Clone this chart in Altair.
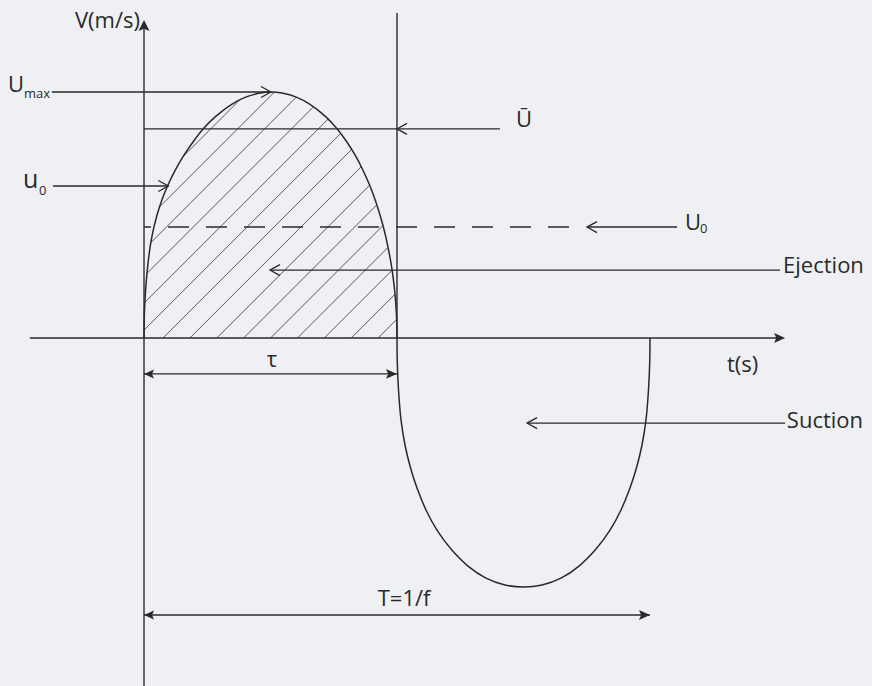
import altair as alt
import pandas as pd

# ---- canvas and coordinate frame -------------------------------------------
W, H = 872, 686
XDOM = [-0.5692, 2.8775]   # time, in units of the ejection time tau
YDOM = [-1.4146, 1.3740]   # velocity, in units of U_max
BG = "#eff0f3"
INK = "#2a2a2a"
FONT = "Open Sans"
CURVE = "catmull-rom"

# ---- characteristic quantities ---------------------------------------------
TAU = 1.0          # ejection time
PERIOD = 2.0       # T = 1/f
U_MAX = 1.0        # peak velocity
PEAK_T = 0.502     # time of the peak
U_BAR = 0.85       # mean ejection velocity
U_0 = 0.451        # reference velocity U0
U0_T, U0_V = 0.096, 0.618   # point u0 on the rising edge

# ---- velocity trace over one cycle -------------------------------------------
ej_t = [0.0000, 0.0016, 0.0067, 0.0154, 0.0289, 0.0514, 0.0704, 0.0929, 0.1225,
        0.1561, 0.1957, 0.2336, 0.2822, 0.3466, 0.4040, 0.4549, 0.5020, 0.5498,
        0.5996, 0.6561, 0.7182, 0.7636, 0.8000, 0.8364, 0.8664, 0.8933, 0.9142,
        0.9328, 0.9462, 0.9581, 0.9771, 0.9901, 0.9976, 1.0000]
ej_v = [0.000, 0.100, 0.200, 0.300, 0.400, 0.500, 0.560, 0.618, 0.680,
        0.740, 0.800, 0.850, 0.900, 0.950, 0.980, 0.995, 1.000, 0.995,
        0.980, 0.950, 0.900, 0.850, 0.800, 0.740, 0.680, 0.618, 0.560,
        0.500, 0.451, 0.400, 0.300, 0.200, 0.100, 0.000]
su_t = [1.0000, 1.0012, 1.0055, 1.0158, 1.0316, 1.0514, 1.0791, 1.1146, 1.1581,
        1.2134, 1.2806, 1.3518, 1.4269, 1.5000, 1.5731, 1.6482, 1.7194, 1.7866,
        1.8419, 1.8854, 1.9209, 1.9486, 1.9684, 1.9842, 1.9945, 1.9988, 2.0000]
su_v = [0.000, -0.102, -0.203, -0.333, -0.435, -0.520, -0.610, -0.699, -0.781,
        -0.858, -0.927, -0.976, -1.004, -1.012, -1.004, -0.976, -0.927, -0.858,
        -0.781, -0.699, -0.610, -0.520, -0.435, -0.333, -0.203, -0.102, 0.000]

# ---- annotation geometry ---------------------------------------------------
EJ_ARROW_V = 0.276
SU_ARROW_V = -0.346
TAU_DIM_V = -0.146
T_DIM_V = -1.126
T_AXIS_END = 2.534
V_AXIS_END = 1.293

PX_T = W / (XDOM[1] - XDOM[0])   # pixels per unit of t
PX_V = H / (YDOM[1] - YDOM[0])   # pixels per unit of V

xs = alt.Scale(domain=XDOM, nice=False, zero=False)
ys = alt.Scale(domain=YDOM, nice=False, zero=False)


def xy(df_mark, x="t", y="v"):
    return df_mark.encode(
        x=alt.X(f"{x}:Q", scale=xs, axis=None),
        y=alt.Y(f"{y}:Q", scale=ys, axis=None),
    )


# 45-degree hatching of the ejection lobe, clipped to its bounding box
HATCH_T0 = 0.075
HATCH_STEP = 0.1063
hatch = []
for k in range(-12, 12):
    tk = HATCH_T0 + k * HATCH_STEP
    s0 = max(0.0, -tk * PX_T)
    s1 = min((TAU - tk) * PX_T, U_MAX * PX_V)
    if s1 > s0:
        hatch.append(dict(t=tk + s0 / PX_T, v=s0 / PX_V,
                          t2=tk + s1 / PX_T, v2=s1 / PX_V))
hatch = pd.DataFrame(hatch)

ej = pd.DataFrame(dict(t=ej_t, v=ej_v, top=[U_MAX + 0.05] * len(ej_t)))
su = pd.DataFrame(dict(t=su_t, v=su_v))

segments = pd.DataFrame([
    dict(t=XDOM[0] + 0.118, v=0, t2=T_AXIS_END - 0.03, v2=0),
    dict(t=0, v=YDOM[0] - 0.05, t2=0, v2=V_AXIS_END - 0.03),
    dict(t=TAU, v=0, t2=TAU, v2=1.321),
    dict(t=0, v=U_BAR, t2=1.407, v2=U_BAR),
    dict(t=-0.364, v=U_MAX, t2=PEAK_T, v2=U_MAX),
    dict(t=-0.360, v=U0_V, t2=U0_T, v2=U0_V),
    dict(t=1.751, v=U_0, t2=2.107, v2=U_0),
    dict(t=0.498, v=EJ_ARROW_V, t2=2.514, v2=EJ_ARROW_V),
    dict(t=1.514, v=SU_ARROW_V, t2=T_AXIS_END, v2=SU_ARROW_V),
    dict(t=0, v=TAU_DIM_V, t2=TAU, v2=TAU_DIM_V),
    dict(t=0, v=T_DIM_V, t2=PERIOD, v2=T_DIM_V),
])
dashed = pd.DataFrame([dict(t=0, v=U_0, t2=1.692, v2=U_0)])

OPEN_R = "M-1,-0.55L0,0L-1,0.55"
OPEN_L = "M1,-0.55L0,0L1,0.55"
FILL_R = "M0,0L-1,-0.45L-0.8,0L-1,0.45Z"
FILL_L = "M0,0L1,-0.45L0.8,0L1,0.45Z"
FILL_U = "M0,0L-0.5,1L0,0.8L0.5,1Z"

open_r = pd.DataFrame(dict(t=[PEAK_T, U0_T], v=[U_MAX, U0_V]))
open_l = pd.DataFrame(dict(t=[TAU, 1.751, 0.498, 1.514],
                           v=[U_BAR, U_0, EJ_ARROW_V, SU_ARROW_V]))
fill_r = pd.DataFrame(dict(t=[T_AXIS_END, TAU, PERIOD], v=[0, TAU_DIM_V, T_DIM_V]))
fill_l = pd.DataFrame(dict(t=[0, 0], v=[TAU_DIM_V, T_DIM_V]))
fill_u = pd.DataFrame(dict(t=[0], v=[V_AXIS_END]))

labels_left = pd.DataFrame([
    dict(t=-0.538, v=1.000, text="U"),
    dict(t=2.138, v=0.439, text="U"),
    dict(t=2.526, v=0.264, text="Ejection"),
    dict(t=2.541, v=-0.366, text="Suction"),
    dict(t=2.304, v=-0.138, text="t(s)"),
])
labels_u = pd.DataFrame([dict(t=-0.478, v=0.610, text="u")])
labels_center = pd.DataFrame([
    dict(t=1.502, v=0.858, text="Ū"),
    dict(t=0.506, v=-0.118, text="τ"),
    dict(t=1.028, v=-1.089, text="T=1/f"),
])
labels_right = pd.DataFrame([dict(t=-0.016, v=1.260, text="V(m/s)")])
subs = pd.DataFrame([
    dict(t=-0.474, v=0.976, text="max"),
    dict(t=-0.415, v=0.581, text="0"),
    dict(t=2.198, v=0.427, text="0"),
])


def rules(df, **kw):
    return alt.Chart(df).mark_rule(color=INK, **kw).encode(
        x=alt.X("t:Q", scale=xs, axis=None),
        y=alt.Y("v:Q", scale=ys, axis=None),
        x2="t2:Q", y2="v2:Q",
    )


def heads(df, shape, filled, size=400):
    kw = dict(strokeWidth=0) if filled else dict(strokeWidth=1.3)
    return xy(alt.Chart(df).mark_point(shape=shape, filled=filled, size=size,
                                       color=INK, opacity=1, **kw))


def texts(df, align, size):
    return xy(alt.Chart(df).mark_text(align=align, baseline="alphabetic",
                                      font=FONT, fontSize=size, color=INK)).encode(
        text="text:N")


hatch_layer = rules(hatch, strokeWidth=0.9, opacity=0.85)
mask = alt.Chart(ej).mark_area(color=BG, opacity=1, interpolate=CURVE).encode(
    x=alt.X("t:Q", scale=xs, axis=None),
    y=alt.Y("v:Q", scale=ys, axis=None),
    y2="top:Q",
)
ej_line = xy(alt.Chart(ej).mark_line(color=INK, strokeWidth=1.5, interpolate=CURVE))
su_line = xy(alt.Chart(su).mark_line(color=INK, strokeWidth=1.5, interpolate=CURVE))

chart = alt.layer(
    hatch_layer,
    mask,
    rules(segments, strokeWidth=1.4),
    rules(dashed, strokeWidth=1.4, strokeDash=[21, 17], strokeDashOffset=14),
    ej_line,
    su_line,
    heads(open_r, OPEN_R, False),
    heads(open_l, OPEN_L, False),
    heads(fill_r, FILL_R, True, 484),
    heads(fill_l, FILL_L, True, 400),
    heads(fill_u, FILL_U, True, 484),
    texts(labels_left, "left", 22),
    texts(labels_u, "left", 25),
    texts(labels_center, "center", 22),
    texts(labels_right, "right", 22),
    texts(subs, "left", 13),
).properties(
    width=W, height=H, padding=0, autosize="none", background=BG,
).configure_view(stroke=None)

chart.save("out.html", embed_options={"renderer": "svg", "actions": False})
